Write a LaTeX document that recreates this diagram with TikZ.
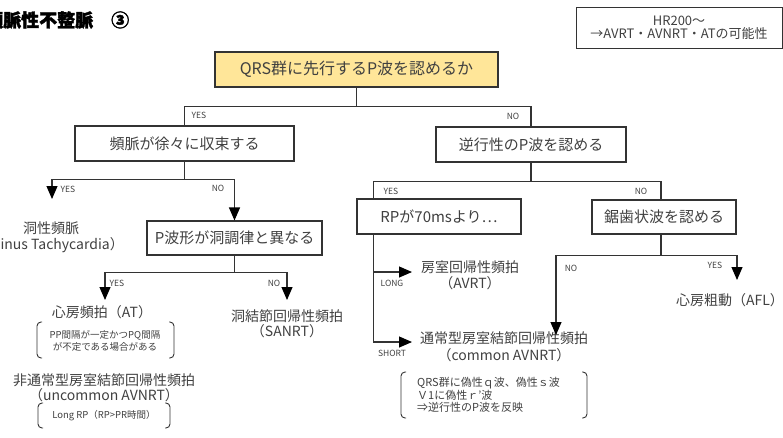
\documentclass[tikz,border=0pt]{standalone}
\usepackage{fontspec}
\setmainfont{Noto Sans CJK JP}
\usetikzlibrary{arrows.meta}
\definecolor{linec}{HTML}{333333}
\definecolor{txt}{HTML}{404040}
\definecolor{rootfill}{HTML}{FFE699}
\tikzset{
 box/.style={draw=linec, line width=1.1pt, text=txt, font=\fontsize{15}{18}\selectfont, inner sep=0pt},
 lbl/.style={text=txt, font=\fontsize{8.5}{10}\selectfont, inner sep=0pt},
 res/.style={text=txt, font=\fontsize{14}{16}\selectfont, align=center, inner sep=0pt},
 smallnote/.style={text=txt, font=\fontsize{9.5}{12}\selectfont, align=center, inner sep=0pt},
 conn/.style={draw=linec, line width=1.1pt},
 arr/.style={conn, -{Triangle[length=13pt,width=11pt,fill=black,color=black]}},
 brk/.style={draw=linec, line width=0.9pt, rounded corners=4pt},
}
\begin{document}
\begin{tikzpicture}[x=1pt,y=-1pt]
\useasboundingbox (0,0) rectangle (783,437);
% title
\node[anchor=west, inner sep=0pt, font=\fontsize{18}{20}\selectfont\bfseries\addfontfeatures{FakeBold=2}] (title) at (-15,20) {頻脈性不整脈　③};
% HR box
\node[draw=linec, line width=1pt, text=txt, minimum width=206pt, minimum height=41pt, inner sep=0pt, align=center, font=\fontsize{13}{13.5}\selectfont] (hr) at (679,27.5) {HR200～\\→AVRT・AVNRT・ATの可能性};
% decision boxes
\node[box, fill=rootfill, line width=2.3pt, minimum width=283pt, minimum height=35pt, font=\fontsize{16}{18}\selectfont] (root) at (356.5,69.5) {QRS群に先行するP波を認めるか};
\node[box, minimum width=219pt, minimum height=35pt] (q1) at (184.5,143.5) {頻脈が徐々に収束する};
\node[box, minimum width=190pt, minimum height=35pt] (q2) at (531,144.5) {逆行性のP波を認める};
\node[box, minimum width=175pt, minimum height=34pt] (q3) at (234.5,238) {P波形が洞調律と異なる};
\node[box, minimum width=164pt, minimum height=35pt] (q4) at (439,216.5) {RPが70msより…};
\node[box, minimum width=144pt, minimum height=34pt] (q5) at (664,217) {鋸歯状波を認める};
% results
\node[res, font=\fontsize{14}{16}\selectfont] (sinus) at (51,237.5) {洞性頻脈\\（Sinus Tachycardia）};
\node[res] (at) at (102,312) {心房頻拍（AT）};
\node[smallnote] (n1) at (105,341) {PP間隔が一定かつPQ間隔\\が不定である場合がある};
\node[res, font=\fontsize{14}{15}\selectfont] (uavnrt) at (104,388) {非通常型房室結節回帰性頻拍\\（uncommon AVNRT）};
\node[smallnote] (n2) at (104,416) {Long RP（RP>PR時間）};
\node[res, font=\fontsize{14}{15}\selectfont] (sanrt) at (287,324) {洞結節回帰性頻拍\\（SANRT）};
\node[res] (avrt) at (470,275) {房室回帰性頻拍\\（AVRT）};
\node[res, font=\fontsize{14}{16.5}\selectfont] (cavnrt) at (504,346.5) {通常型房室結節回帰性頻拍\\（common AVNRT）};
\node[text=txt, inner sep=0pt, anchor=west, align=left, font=\fontsize{11}{12.5}\selectfont] (n3) at (417,395) {QRS群に偽性ｑ波、偽性ｓ波\\Ｖ1に偽性ｒ'波\\⇒逆行性のP波を反映};
\node[res] (afl) at (730,300) {心房粗動（AFL）};
% brackets
\draw[brk] (42,322) -- (37,322) -- (37,358) -- (42,358);
\draw[brk] (169,322) -- (174,322) -- (174,358) -- (169,358);
\draw[brk] (43,403) -- (38,403) -- (38,428) -- (43,428);
\draw[brk] (165,403) -- (170,403) -- (170,428) -- (165,428);
\draw[brk] (406,372) -- (401,372) -- (401,418) -- (406,418);
\draw[brk] (582,372) -- (587,372) -- (587,418) -- (582,418);
% coordinates for arrow tips
\coordinate (t1) at (52,199);
\coordinate (t3a) at (105,300);
\coordinate (t3b) at (287,300);
\coordinate (b4) at (374,272);
\coordinate (t4a) at (412,272);
\coordinate (t4b) at (412,342);
\coordinate (t5a) at (737,280);
\coordinate (t5b) at (556,335);
% connectors
\draw[conn] (root.south) -- ++(0,18) coordinate (j0);
\draw[conn] (j0) -| (q1.north);
\draw[conn] (j0) -| (q2.north);
\draw[conn] (q1.south) -- ++(0,18) coordinate (j1);
\draw[arr] (j1) -| (t1);
\draw[arr] (j1) -| (q3.north);
\draw[conn] (q3.south) -- ++(0,17) coordinate (j3);
\draw[arr] (j3) -| (t3a);
\draw[arr] (j3) -| (t3b);
\draw[conn] (q2.south) -- ++(0,19) coordinate (j2);
\draw[conn] (j2) -| ([xshift=17pt]q4.north west);
\draw[conn] (j2) -| ([xshift=-3pt]q5.north);
\draw[arr] ([xshift=17pt]q4.south west) |- (t4b);
\draw[arr] (b4) -- (t4a);
\draw[conn] ([xshift=-3pt]q5.south) -- ++(0,21) coordinate (j5);
\draw[arr] (j5) -| (t5a);
\draw[arr] (j5) -| (t5b);
% labels
\node[lbl] (l0y) at (199,115) {YES};
\node[lbl] (l0n) at (513,116) {NO};
\node[lbl] (l1y) at (68,189) {YES};
\node[lbl] (l1n) at (218,188) {NO};
\node[lbl] (l3y) at (117,283) {YES};
\node[lbl] (l3n) at (274,283) {NO};
\node[lbl] (l2y) at (391,191) {YES};
\node[lbl] (l2n) at (641,191) {NO};
\node[lbl] (l4l) at (392,283) {LONG};
\node[lbl] (l4s) at (392,353) {SHORT};
\node[lbl] (l5n) at (571,268) {NO};
\node[lbl] (l5y) at (715,265) {YES};
\end{tikzpicture}
\end{document}
